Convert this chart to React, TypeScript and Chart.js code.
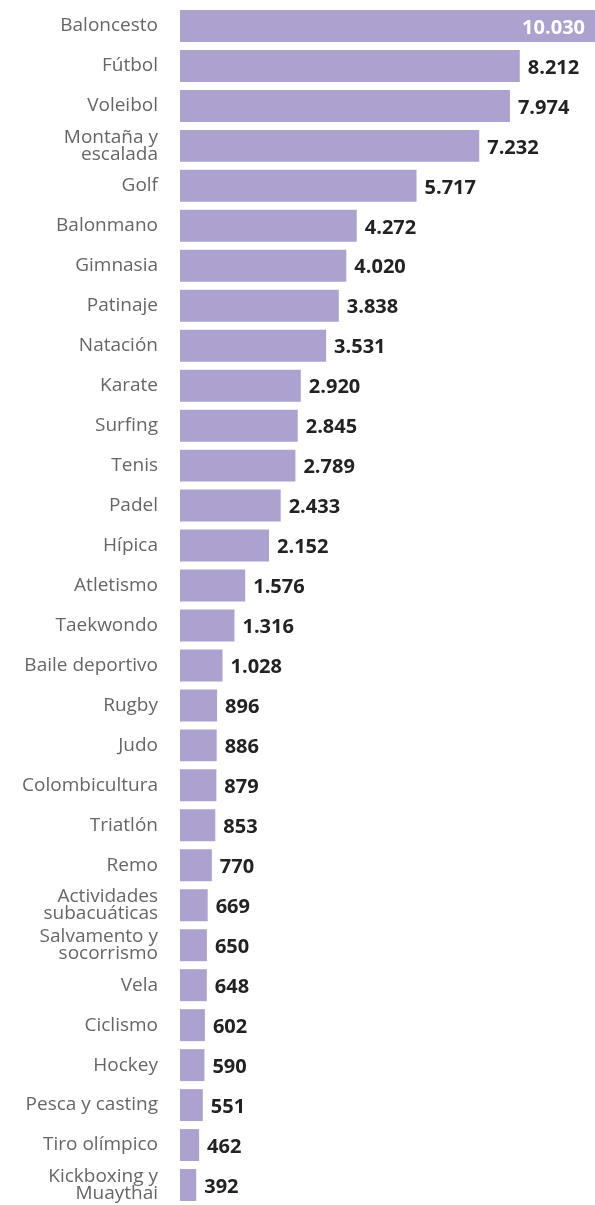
import React, { useEffect, useRef } from "react";
import { Chart, registerables } from "chart.js";

Chart.register(...registerables);

const categories: (string | string[])[] = [
  "Baloncesto",
  "Fútbol",
  "Voleibol",
  ["Montaña y", "escalada"],
  "Golf",
  "Balonmano",
  "Gimnasia",
  "Patinaje",
  "Natación",
  "Karate",
  "Surfing",
  "Tenis",
  "Padel",
  "Hípica",
  "Atletismo",
  "Taekwondo",
  "Baile deportivo",
  "Rugby",
  "Judo",
  "Colombicultura",
  "Triatlón",
  "Remo",
  ["Actividades", "subacuáticas"],
  ["Salvamento y", "socorrismo"],
  "Vela",
  "Ciclismo",
  "Hockey",
  "Pesca y casting",
  "Tiro olímpico",
  ["Kickboxing y", "Muaythai"],
];

const values: number[] = [
  10030, 8212, 7974, 7232, 5717, 4272, 4020, 3838, 3531, 2920, 2845, 2789, 2433,
  2152, 1576, 1316, 1028, 896, 886, 879, 853, 770, 669, 650, 648, 602, 590, 551,
  462, 392,
];

const BAR_COLOR = "#ada2cf";
const FONT = "'Open Sans', sans-serif";

function fmt(v: number): string {
  const s = String(Math.round(v));
  return s.replace(/\B(?=(\d{3})+(?!\d))/g, ".");
}

const valueLabels = {
  id: "valueLabels",
  afterDatasetsDraw(chart: any) {
    const ctx = chart.ctx;
    const meta = chart.getDatasetMeta(0);
    const area = chart.chartArea;
    ctx.save();
    ctx.font = `bold 20px ${FONT}`;
    ctx.textBaseline = "middle";
    meta.data.forEach((bar: any, i: number) => {
      const txt = fmt(values[i]);
      const w = ctx.measureText(txt).width;
      const y = bar.y + 2;
      if (bar.x + 8 + w > area.right) {
        ctx.fillStyle = "#ffffff";
        ctx.textAlign = "right";
        ctx.fillText(txt, bar.x - 10, y);
      } else {
        ctx.fillStyle = "#222222";
        ctx.textAlign = "left";
        ctx.fillText(txt, bar.x + 8, y);
      }
    });
    ctx.restore();
  },
};

export default function App() {
  const ref = useRef<HTMLCanvasElement | null>(null);
  useEffect(() => {
    if (!ref.current) return;
    const chart = new Chart(ref.current, {
      type: "bar",
      data: {
        labels: categories,
        datasets: [
          {
            data: values,
            backgroundColor: BAR_COLOR,
            borderWidth: 0,
            categoryPercentage: 0.8,
            barPercentage: 1,
          },
        ],
      },
      options: {
        indexAxis: "y",
        animation: false,
        responsive: false,
        maintainAspectRatio: false,
        layout: { padding: { top: 6, bottom: 0, right: 0, left: 0 } },
        plugins: {
          legend: { display: false },
          tooltip: { enabled: false },
        },
        scales: {
          x: {
            display: false,
            min: 0,
            max: 10030,
          },
          y: {
            afterFit(scale: any) {
              scale.width = 180;
              scale.paddingTop = 0;
              scale.paddingBottom = 0;
            },
            grid: { display: false, drawTicks: false },
            border: { display: false },
            ticks: {
              padding: 22,
              color: "#666666",
              autoSkip: false,
              font: { family: FONT, size: 19, lineHeight: 0.9 },
            },
          },
        },
      },
      plugins: [valueLabels],
    });
    return () => chart.destroy();
  }, []);
  return (
    <div style={{ position: "absolute", left: 0, top: 0, width: 595, height: 1205 }}>
      <canvas ref={ref} width={595} height={1205} style={{ width: 595, height: 1205, display: "block" }} />
    </div>
  );
}
